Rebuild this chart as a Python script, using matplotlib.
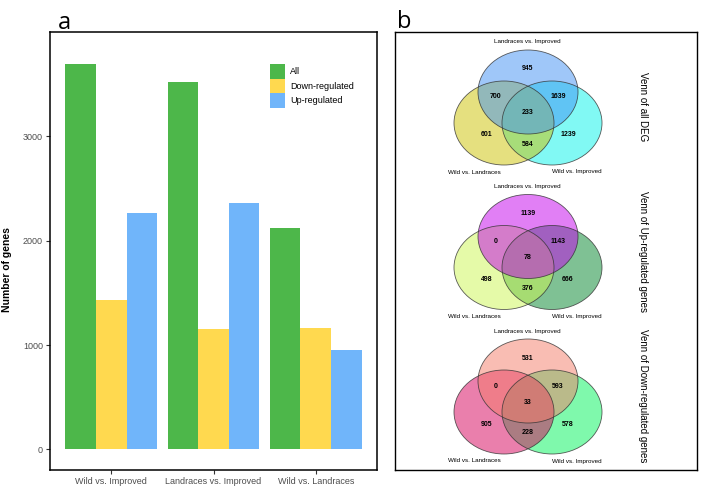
import numpy as np
import matplotlib
matplotlib.use('Agg')
import matplotlib.pyplot as plt
from matplotlib.patches import Ellipse, Patch

plt.rcParams['font.family'] = ['Liberation Sans', 'DejaVu Sans']

# ---- data ----
comparisons = ['Wild vs. Improved', 'Landraces vs. Improved', 'Wild vs. Landraces']
all_deg = [3695, 3517, 2118]
down_deg = [1432, 1157, 1166]
up_deg = [2263, 2360, 952]
series_names = ['All', 'Down-regulated', 'Up-regulated']
y_ticks = [0, 1000, 2000, 3000]

# venn region order: top only, top&left, top&right, all three, left only, right only, left&right
venn_sets = ['Landraces vs. Improved', 'Wild vs. Landraces', 'Wild vs. Improved']
venn_all = [945, 700, 1639, 233, 601, 1239, 584]
venn_up = [1139, 0, 1143, 78, 498, 666, 376]
venn_down = [531, 0, 593, 33, 905, 578, 228]
venn_titles = ['Venn of all DEG', 'Venn of Up-regulated genes', 'Venn of Down-regulated genes']

bar_colors = ['#4DB74A', '#FFD94F', '#70B5FA']
# top, left, right fills
venn_colors = [['#4191F5', '#CDC300', '#05F5EB'],
               ['#C400EC', '#CDF752', '#00852A'],
               ['#F57D69', '#D7005A', '#00F55A']]

W, H = 701, 491
fig = plt.figure(figsize=(W / 100, H / 100), dpi=100)

def fx(px):
    return px / W

def fy(py):
    return 1 - py / H

'''~~~~~ panel a : bar chart'''
ax = fig.add_axes([fx(50), fy(470), fx(377) - fx(50), fy(32) - fy(470)])
x = np.arange(1, 4)
bw = 0.3
for i, vals in enumerate([all_deg, down_deg, up_deg]):
    ax.bar(x + (i - 1) * bw, vals, width=bw, color=bar_colors[i], linewidth=0)

ax.set_xlim(0.4, 3.6)
ax.set_ylim(-198, 4000)
ax.set_xticks(x)
ax.set_xticklabels(comparisons)
ax.set_yticks(y_ticks)
ax.tick_params(axis='both', direction='out', length=3, width=0.8, color='#333333',
               labelsize=6.5, labelcolor='#4D4D4D', pad=2)
for s in ax.spines.values():
    s.set_linewidth(1.1)
    s.set_color('black')
fig.text(fx(7.5), fy(270), 'Number of genes', fontsize=7.5, fontweight='bold',
         rotation=90, ha='center', va='center')

handles = [Patch(facecolor=c, edgecolor='none') for c in bar_colors]
fig.legend(handles, series_names, loc='upper left', bbox_to_anchor=(fx(270), fy(64)),
           frameon=False, fontsize=6.5, handlelength=1.7, handleheight=2.1,
           labelspacing=0.0, handletextpad=0.55, borderpad=0, borderaxespad=0)

fig.text(fx(58), fy(29), 'a', fontsize=17, family='Open Sans', va='baseline', ha='left')
fig.text(fx(397), fy(28), 'b', fontsize=17, family='Open Sans', va='baseline', ha='left')

'''~~~~~ panel b : venn diagrams (pixel coordinates)'''
bx = fig.add_axes([fx(395), fy(470), fx(697) - fx(395), fy(32) - fy(470)])
bx.set_xlim(395, 697)
bx.set_ylim(470, 32)
bx.set_xticks([])
bx.set_yticks([])
for s in bx.spines.values():
    s.set_linewidth(1.0)
    s.set_color('black')

cx = 528
circle_offsets = [(0, 50), (-24, 81), (24, 81)]
draw_order = [2, 1, 0]   # right, left, then top on top
region_offsets = [(0, 27), (-32, 55), (30, 55), (0, 71), (-41, 93), (40, 93), (0, 102)]
for k, counts in enumerate([venn_all, venn_up, venn_down]):
    y0 = 42 + 144.5 * k
    for j in draw_order:
        dx, dy = circle_offsets[j]
        bx.add_patch(Ellipse((cx + dx, y0 + dy), 100, 84, facecolor=venn_colors[k][j],
                             alpha=0.5, edgecolor='none'))
    for (dx, dy) in circle_offsets:
        bx.add_patch(Ellipse((cx + dx, y0 + dy), 100, 84, facecolor='none',
                             edgecolor='#333333', linewidth=0.6, alpha=0.8))
    for (dx, dy), n in zip(region_offsets, counts):
        bx.text(cx + dx, y0 + dy, str(n), fontsize=5, fontweight='bold',
                ha='center', va='center')
    bx.text(cx - 1, y0, venn_sets[0], fontsize=4.5, ha='center', va='center')
    bx.text(474, y0 + 130, venn_sets[1], fontsize=4.5, ha='center', va='center')
    bx.text(577, y0 + 130, venn_sets[2], fontsize=4.5, ha='center', va='center')
    bx.text(643, y0 + 65, venn_titles[k], fontsize=7, rotation=270,
            ha='center', va='center')

fig.savefig('out.png', dpi=100)
